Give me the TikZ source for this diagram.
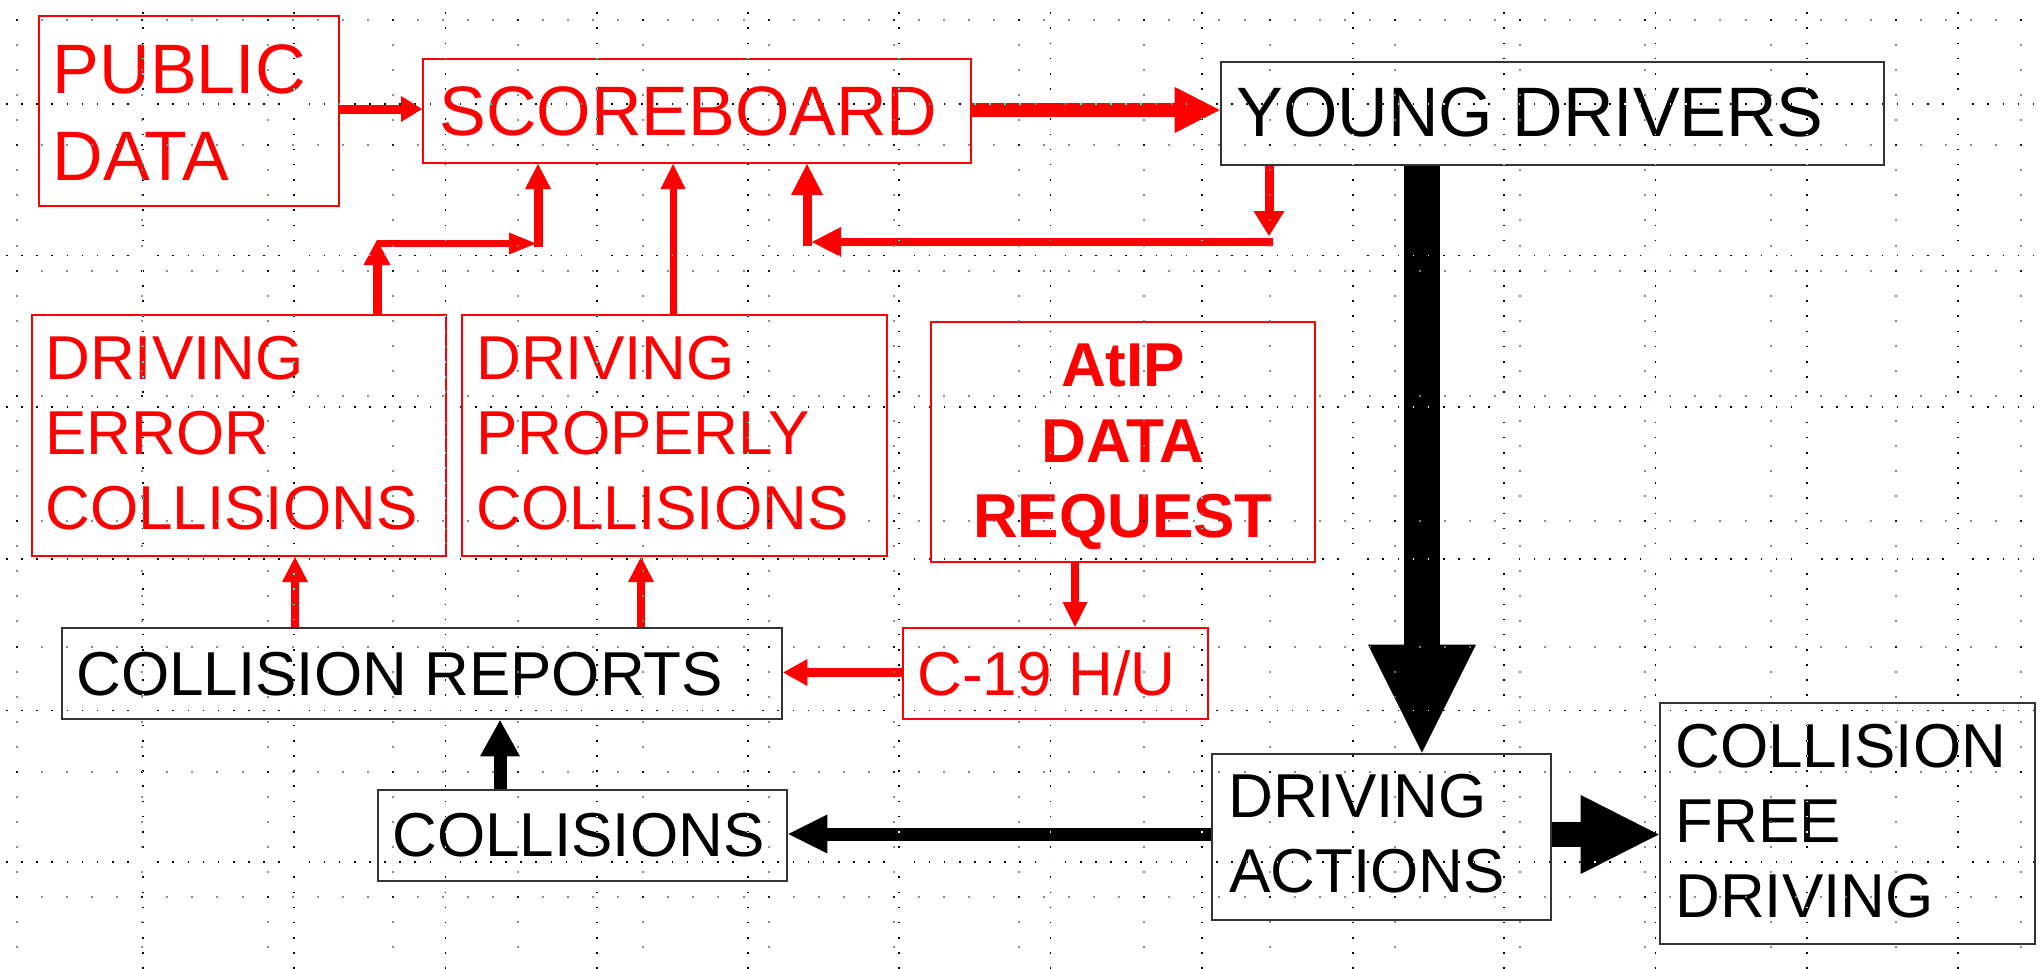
\documentclass[tikz,border=0pt]{standalone}
\usepackage{fontspec}
\setmainfont{Liberation Sans}
\usetikzlibrary{arrows.meta,fit}
\definecolor{ored}{RGB}{255,0,0}
\definecolor{gdot}{gray}{0.45}
\tikzset{
  rbox/.style={draw=ored, line width=1pt, inner sep=0pt},
  kbox/.style={draw=black!80, line width=1.3pt, inner sep=0pt},
  bigt/.style={inner sep=0pt, anchor=base west, font=\fontsize{35}{42}\selectfont},
  smt/.style={inner sep=0pt, anchor=base west, font=\fontsize{31}{37}\selectfont},
  bldt/.style={inner sep=0pt, anchor=base, text=ored, font=\fontsize{31}{37}\selectfont\bfseries},
  arr/.style args={#1/#2/#3}{line width=#1, -{Triangle[length=#2,width=#3,line width'=0pt]}},
  rarr/.style={draw=ored, fill=ored, arr=#1},
  karr/.style={draw=black, fill=black, arr=#1}
}
\begin{document}
\begin{tikzpicture}[x=0.5pt,y=-0.5pt]
\useasboundingbox (0,0) rectangle (2040,969);
\fill[white] (0,0) rectangle (2040,969);

% boxes
\node[rbox, fit={(39,16) (339,206)}] (pd) {};
\node[rbox, fit={(423,59) (971,163)}] (sb) {};
\node[kbox, fit={(1221,62) (1884,165)}] (yd) {};
\node[rbox, fit={(32,315) (446,556)}] (dec) {};
\node[rbox, fit={(462,315) (887,556)}] (dpc) {};
\node[rbox, fit={(931,322) (1315,562)}] (atip) {};
\node[kbox, fit={(62,628) (782,719)}] (cr) {};
\node[rbox, fit={(903,628) (1208,719)}] (c19) {};
\node[kbox, fit={(378,790) (787,881)}] (col) {};
\node[kbox, fit={(1212,754) (1551,920)}] (da) {};
\node[kbox, fit={(1660,703) (2035,944)}] (cfd) {};

% texts
\node[bigt, text=ored] (pd1) at (52.5,93) {PUBLIC};
\node[bigt, text=ored] (pd2) at (52.5,180) {DATA};
\node[bigt, text=ored] (sbt) at (439,135) {SCOREBOARD};
\node[bigt] (ydt) at (1236,136) {YOUNG DRIVERS};
\node[smt, text=ored] (dec1) at (45,379) {DRIVING};
\node[smt, text=ored] (dec2) at (45,454) {ERROR};
\node[smt, text=ored] (dec3) at (45,529) {COLLISIONS};
\node[smt, text=ored] (dpc1) at (476,379) {DRIVING};
\node[smt, text=ored] (dpc2) at (476,454) {PROPERLY};
\node[smt, text=ored] (dpc3) at (476,529) {COLLISIONS};
\node[bldt] (at1) at (1123,386) {AtIP};
\node[bldt] (at2) at (1123,462) {DATA};
\node[bldt] (at3) at (1123,537) {REQUEST};
\node[smt] (crt) at (76,695) {COLLISION REPORTS};
\node[smt, text=ored] (c19t) at (917,695) {C-19 H/U};
\node[smt] (colt) at (392,856) {COLLISIONS};
\node[smt] (da1t) at (1228,817) {DRIVING};
\node[smt] (da2t) at (1229,892) {ACTIONS};
\node[smt] (cf1) at (1675,767) {COLLISION};
\node[smt] (cf2) at (1675,842) {FREE};
\node[smt] (cf3) at (1675,917) {DRIVING};

% red connectors
\draw[rarr={4.5pt/10.5pt/13pt}] (pd.east |- 0,109) -- (sb.west |- 0,109);
\draw[rarr={7pt/22.5pt/23pt}] (sb.east |- 0,110) -- (yd.west |- 0,110);

\coordinate (ya) at (1269,236);
\coordinate (yb) at (1273,242);
\coordinate (yc) at (812,242);
\coordinate (ye) at (807,246);
\draw[rarr={4.5pt/12.5pt/15.5pt}] (yd.south -| ya) -- (ya);
\draw[rarr={4pt/14.5pt/15pt}] (yb) -- (yc);
\draw[rarr={4.5pt/15.5pt/16pt}] (ye) -- (sb.south -| ye);

\coordinate (ea) at (377,240);
\coordinate (eb) at (377,243.5);
\coordinate (ec) at (536,243.5);
\coordinate (ee) at (538,247);
\draw[rarr={4.5pt/12.5pt/13.5pt}] (dec.north -| ea) -- (ea);
\draw[rarr={3.5pt/13.5pt/11pt}] (eb) -- (ec);
\draw[rarr={4.5pt/12.5pt/13pt}] (ee) -- (sb.south -| ee);

\draw[rarr={3.5pt/12.5pt/12.5pt}] (dpc.north -| 673,0) -- (sb.south -| 673,0);
\draw[rarr={4pt/12.5pt/13pt}] (cr.north -| 295,0) -- (dec.south -| 295,0);
\draw[rarr={4pt/12.5pt/13pt}] (cr.north -| 641,0) -- (dpc.south -| 641,0);
\draw[rarr={4pt/12.5pt/12.5pt}] (atip.south -| 1075,0) -- (c19.north -| 1075,0);
\draw[rarr={4.5pt/12pt/13.5pt}] (c19.west |- 0,672.5) -- (cr.east |- 0,672.5);

% black connectors
\draw[karr={6.5pt/18pt/20pt}] (col.north -| 500,0) -- (cr.south -| 500,0);
\draw[karr={6.5pt/19.5pt/19.5pt}] (da.west |- 0,834) -- (col.east |- 0,834);
\draw[karr={18pt/54pt/54pt}] (yd.south -| 1422,0) -- (da.north -| 1422,0);
\draw[karr={12.5pt/39pt/39.5pt}] (da.east |- 0,834.5) -- (cfd.west |- 0,834.5);

% dotted grids
\begin{scope}[blend mode=difference]
\foreach \k in {0,...,7}
  \draw[gdot, line width=1pt, dash pattern=on 1pt off 11.525pt] (-9,{20+125.3*\k}) -- (2045,{20+125.3*\k});
\foreach \k in {0,...,16}
  \draw[gdot, line width=1pt, dash pattern=on 1pt off 11.53pt] ({17+125.25*\k},-6.06) -- ({17+125.25*\k},975);
\foreach \k in {0,...,5}
  \draw[white, line width=0.8pt, dash pattern=on 0.8pt off 6.7625pt] (-24.2,{104+151.6*\k}) -- (2045,{104+151.6*\k});
\foreach \k in {1,...,13}
  \draw[white, line width=0.8pt, dash pattern=on 0.8pt off 6.78pt] ({-8.25+151.25*\k},-2.9) -- ({-8.25+151.25*\k},975);
\end{scope}
\end{tikzpicture}
\end{document}
